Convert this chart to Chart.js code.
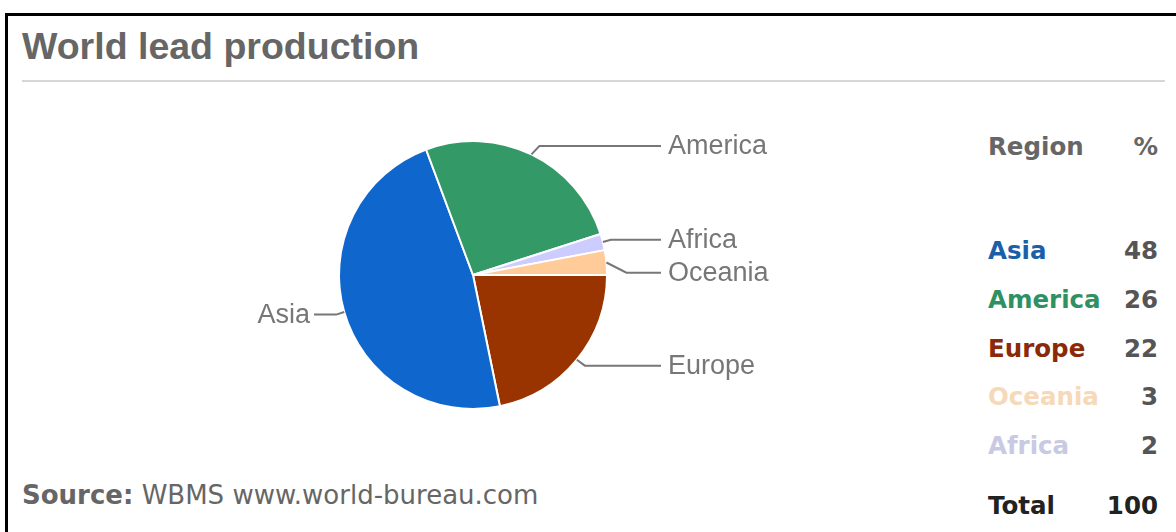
<!DOCTYPE html>
<html>
<head>
<meta charset="utf-8">
<script src="https://cdn.jsdelivr.net/npm/chart.js@4"></script>
<style>
  html, body { margin: 0; padding: 0; background: #fff; }
  body { width: 1176px; height: 532px; position: relative; overflow: hidden; }
  .frame-top { position: absolute; left: 5px; top: 13px; width: 1171px; height: 3px; background: #000; }
  .frame-left { position: absolute; left: 5px; top: 13px; width: 3px; height: 519px; background: #000; }
  .title { position: absolute; left: 22px; top: 28px; font: bold 37.5px/37px "Liberation Sans", Arial, sans-serif; color: #666; white-space: nowrap; }
  .rule { position: absolute; left: 22px; top: 80px; width: 1143px; height: 2px; background: #d6d6d6; }
  .cell { position: absolute; height: 30px; font: bold 24.5px/30px "DejaVu Sans", Verdana, sans-serif; white-space: nowrap; }
  .num { text-align: right; width: 80px; left: 1078px; }
  .name { left: 988px; }
  .source { position: absolute; left: 22px; top: 480px; font: 26px/30px "DejaVu Sans", Verdana, sans-serif; color: #666; white-space: nowrap; }
  .source b { font-weight: bold; }
  #wrap { position: absolute; left: 0; top: 0; width: 1176px; height: 532px; }
</style>
</head>
<body>
<div class="frame-top"></div>
<div class="frame-left"></div>
<div class="title">World lead production</div>
<div class="rule"></div>
<div id="table"></div>
<div class="source"><b>Source:</b> WBMS www.world-bureau.com</div>
<div id="wrap"><canvas id="leadChart"></canvas></div>

<script>
// table order (as listed on the right)
const regions = ['Asia', 'America', 'Europe', 'Oceania', 'Africa'];
const shares = [48, 26, 22, 3, 2];
const totalShare = 100;
const tableColors = ['#1a5fa8', '#2e9163', '#8a2a08', '#f6d9b8', '#c9c9e3'];
const sliceColors = ['#0f66cc', '#339966', '#993300', '#ffcc99', '#ccccff'];

// order the slices run clockwise from 3 o'clock
const pieOrder = ['Europe', 'Asia', 'America', 'Africa', 'Oceania'];

// 1. TABLE
function buildTable() {
    const table = document.getElementById('table');
    const add = (cls, text, top, color) => {
        const d = document.createElement('div');
        d.className = 'cell ' + cls;
        d.style.top = (top - 15) + 'px';
        d.style.color = color;
        d.textContent = text;
        table.appendChild(d);
    };
    add('name', 'Region', 147, '#666');
    add('num', '%', 147, '#666');
    regions.forEach((r, i) => {
        const y = 251 + i * 48.75;
        add('name', r, y, tableColors[i]);
        add('num', String(shares[i]), y, '#555');
    });
    add('name', 'Total', 506, '#222');
    add('num', String(totalShare), 506, '#222');
}

// 2. LEADER LINE LABELS
const leaderLabels = {
    id: 'leaderLabels',
    afterDatasetsDraw(chart) {
        const ctx = chart.ctx;
        const meta = chart.getDatasetMeta(0);
        const labels = chart.data.labels;
        const items = meta.data.map((arc, i) => {
            const p = arc.getProps(['x', 'y', 'startAngle', 'endAngle', 'outerRadius'], true);
            const mid = (p.startAngle + p.endAngle) / 2;
            const ex = p.x + Math.cos(mid) * p.outerRadius;
            const ey = p.y + Math.sin(mid) * p.outerRadius;
            // labels sit a little further out vertically than the slice edge
            const ly = p.y + (ey - p.y) * 1.07;
            return { text: labels[i], cx: p.x, r: p.outerRadius, ex, ey, ly, right: Math.cos(mid) >= 0 };
        });

        // keep right-hand labels from overlapping
        const rightSide = items.filter(it => it.right).sort((a, b) => a.ey - b.ey);
        for (let k = 1; k < rightSide.length; k++) {
            if (rightSide[k].ly - rightSide[k - 1].ly < 33) rightSide[k].ly = rightSide[k - 1].ly + 33;
        }

        ctx.save();
        ctx.font = '27px "Liberation Sans", Arial, sans-serif';
        ctx.fillStyle = '#777';
        ctx.strokeStyle = '#777';
        ctx.lineWidth = 2;
        ctx.textBaseline = 'middle';
        items.forEach(it => {
            const dir = it.right ? 1 : -1;
            const bend = Math.abs(it.ly - it.ey) > 10 ? 20 : 8;
            ctx.beginPath();
            ctx.moveTo(it.ex, it.ey);
            ctx.lineTo(it.ex + dir * bend, it.ly);
            if (it.right) {
                const endX = it.cx + it.r + 54;
                ctx.lineTo(endX, it.ly);
                ctx.stroke();
                ctx.textAlign = 'left';
                ctx.fillText(it.text, endX + 7, it.ly + 1);
            } else {
                const endX = it.cx - it.r - 25;
                ctx.lineTo(endX, it.ly);
                ctx.stroke();
                ctx.textAlign = 'right';
                ctx.fillText(it.text, endX - 4, it.ly + 1);
            }
        });
        ctx.restore();
    }
};

// 3. PIE
function renderLeadChart() {
    buildTable();
    const ctx = document.getElementById('leadChart').getContext('2d');
    const data = pieOrder.map(name => shares[regions.indexOf(name)]);
    const colors = pieOrder.map(name => sliceColors[regions.indexOf(name)]);

    new Chart(ctx, {
        type: 'pie',
        data: {
            labels: pieOrder,
            datasets: [{
                data: data,
                backgroundColor: colors,
                borderColor: '#fff',
                borderWidth: 2,
                hoverOffset: 0
            }]
        },
        options: {
            responsive: true,
            maintainAspectRatio: false,
            animation: false,
            rotation: 90,
            layout: { padding: { left: 338, right: 568, top: 140, bottom: 122 } },
            plugins: {
                legend: { display: false },
                tooltip: { enabled: false }
            }
        },
        plugins: [leaderLabels]
    });
}

document.addEventListener('DOMContentLoaded', renderLeadChart);
</script>
</body>
</html>
